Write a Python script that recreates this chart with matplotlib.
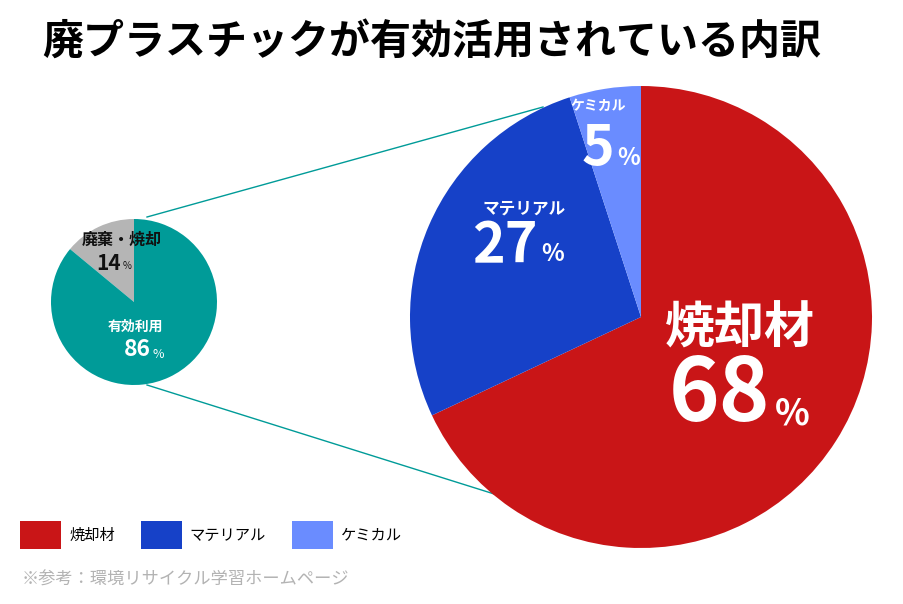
import matplotlib.pyplot as plt

plt.rcParams['font.family'] = ['Noto Sans CJK JP', 'DejaVu Sans']

# data
small_labels = ["廃棄・焼却", "有効利用"]
small_values = [14, 86]
small_colors = ["#b5b5b5", "#009b98"]

big_labels = ["焼却材", "マテリアル", "ケミカル"]
big_values = [68, 27, 5]
big_colors = ["#c91517", "#1641c8", "#6a8cff"]

W, H = 904, 604
fig = plt.figure(figsize=(W / 100, H / 100), dpi=100)
ax = fig.add_axes([0, 0, 1, 1])


def Y(p):
    return H - p


# pies (pixel coordinates of the reference, y flipped)
sc, sr = (134, Y(302)), 83
bc, br = (641, Y(317)), 231

ax.pie(small_values, colors=small_colors, startangle=90, counterclock=True,
       center=sc, radius=sr, frame=True, wedgeprops=dict(linewidth=0))
wedges, _ = ax.pie(big_values, colors=big_colors, startangle=90, counterclock=False,
                   center=bc, radius=br, frame=True, wedgeprops=dict(linewidth=0))
ax.set_xlim(0, W)
ax.set_ylim(0, H)
ax.axis("off")

# connector lines
ax.plot([147, 543], [Y(217), Y(107)], color="#009b98", lw=1, zorder=0)
ax.plot([147, 507], [Y(385), Y(498)], color="#009b98", lw=1, zorder=0)

# title
ax.text(42, Y(42), "廃プラスチックが有効活用されている内訳", fontsize=29.5,
        fontweight="bold", ha="left", va="center", color="black")

# small pie labels
ax.text(122, Y(240), small_labels[0], fontsize=11.5, fontweight="bold",
        ha="center", va="center", color="#111111")
ax.text(121, Y(263), f"{small_values[0]}", fontsize=15, fontweight="bold",
        ha="right", va="center", color="#111111")
ax.text(123, Y(266), "%", fontsize=7, ha="left", va="center", color="#111111")
ax.text(135, Y(327), small_labels[1], fontsize=10, fontweight="bold",
        ha="center", va="center", color="white")
ax.text(151, Y(350), f"{small_values[1]}", fontsize=16.5, fontweight="bold",
        ha="right", va="center", color="white")
ax.text(153, Y(354), "%", fontsize=9, ha="left", va="center", color="white")

# big pie labels
ax.text(740, Y(329), big_labels[0], fontsize=36, fontweight="bold",
        ha="center", va="center", color="white")
ax.text(770, Y(396), f"{big_values[0]}", fontsize=62, fontweight="bold",
        ha="right", va="center", color="white")
ax.text(775, Y(414), "%", fontsize=26, fontweight="bold", ha="left", va="center", color="white")

ax.text(524, Y(209), big_labels[1], fontsize=12, fontweight="bold",
        ha="center", va="center", color="white")
ax.text(538, Y(246), f"{big_values[1]}", fontsize=40, fontweight="bold",
        ha="right", va="center", color="white")
ax.text(541, Y(254), "%", fontsize=17, fontweight="bold", ha="left", va="center", color="white")

ax.text(598, Y(106), big_labels[2], fontsize=10, fontweight="bold",
        ha="center", va="center", color="white")
ax.text(614, Y(149), f"{big_values[2]}", fontsize=40, fontweight="bold",
        ha="right", va="center", color="white")
ax.text(617, Y(158), "%", fontsize=17, fontweight="bold", ha="left", va="center", color="white")

# legend
leg = ax.legend(wedges, big_labels, loc="center left", bbox_to_anchor=(14 / W, 1 - 535 / H),
                ncol=3, frameon=False, fontsize=11, handlelength=2.7, handleheight=2.4,
                handletextpad=0.5, columnspacing=1.7, borderaxespad=0)

# source
ax.text(22, Y(580), "※参考：環境リサイクル学習ホームページ", fontsize=12.4,
        ha="left", va="center", color="#b3b3b3")

fig.savefig("out.png", dpi=100)
